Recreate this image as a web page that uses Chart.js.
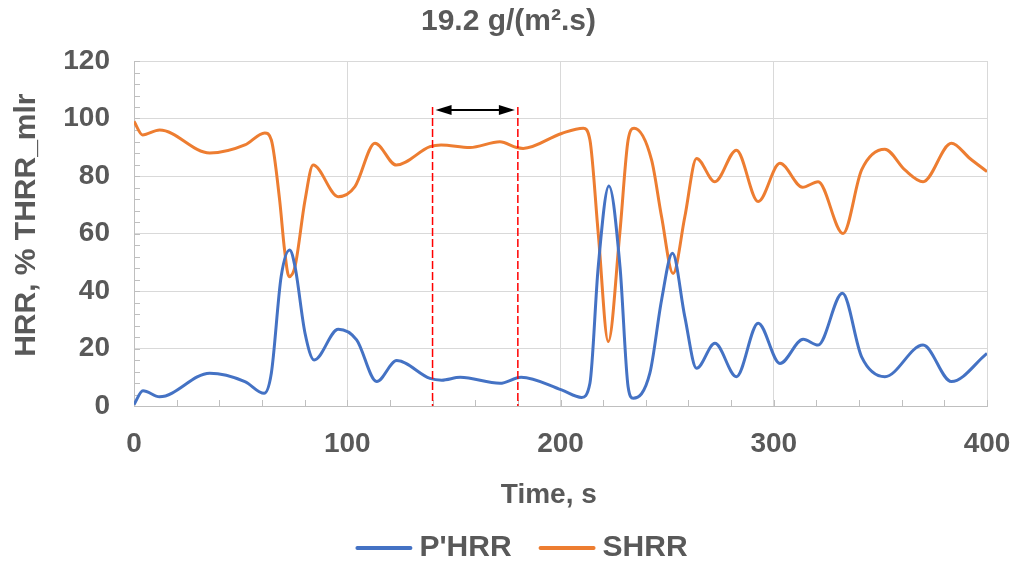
<!DOCTYPE html>
<html>
<head>
<meta charset="utf-8">
<script src="https://cdn.jsdelivr.net/npm/chart.js@4/dist/chart.umd.min.js"></script>
<style>
  html, body { margin: 0; padding: 0; background: #ffffff; }
  #wrap { width: 1016px; height: 562px; }
</style>
</head>
<body>
<div id="wrap"><canvas id="c" width="1016" height="562"></canvas></div>
<script>
// Heat release rate traces, % of THRR_mlr, versus time (s)
const timePHRR = [0, 4.2, 12, 35.5, 52, 61, 64.4, 69, 73, 75.5, 80.2, 84.5, 95.8, 104.4, 113.8, 123.2,
  138.8, 144.3, 153, 171.6, 181.5, 200.5, 209.9, 213.8, 217.7, 222.7, 227.9, 231.7, 234.1, 241.9,
  247.4, 252.5, 258.3, 263.8, 272.4, 282.5, 292.7, 302.9, 313.8, 320.8, 332.2, 341.2, 352.1, 370,
  383.3, 400];
const phrr = [0.5, 5.3, 3.2, 11.4, 8.5, 4.4, 11.4, 45, 54.3, 48.5, 25.3, 16, 26.7, 23, 8.5, 15.8,
  9.6, 9, 10, 7.9, 10, 5.6, 3, 7.9, 48.5, 76.5, 48.5, 6.7, 2.7, 11.4,
  36.9, 53.1, 31, 13.1, 21.8, 10.2, 28.8, 14.8, 23.2, 21.2, 39.2, 17.1, 10.2, 21.2,
  8.5, 18.3];

const timeSHRR = [0, 4, 12, 35.5, 52, 61.3, 64.4, 68.3, 70.6, 72.7, 75.5, 80.2, 84, 95.8, 103.6, 113,
  123, 138.8, 144, 157.5, 171.6, 179.4, 182.5, 200.5, 210.7, 213.8, 217.7, 222.4, 227.8, 231.7,
  234.5, 242.7, 247.4, 252.8, 258.3, 263.8, 272.4, 282.5, 292.7, 302.9, 313.5, 320.8, 332.5, 341.2,
  352.1, 361.5, 370, 383.3, 392, 400];
const shrr = [99, 94.3, 96, 88, 90.8, 95, 92.5, 71.6, 54.3, 45, 48.5, 71.6, 83.8, 72.8, 76.3, 91.4,
  83.8, 90.2, 90.8, 89.9, 91.9, 89.9, 89.6, 94.8, 96.6, 92.5, 60, 22.4, 60, 92.5,
  96.6, 85.6, 65.8, 46.1, 65.8, 86.1, 78, 89, 71.1, 84.4, 76.1, 78, 60, 82.1,
  89.3, 82.1, 78, 91.4, 86.1, 81.5];

// Steady-burning window marked by dashed lines and a double arrow
const windowStart = 140;
const windowEnd = 180;
const markerTop = 104;
const arrowLevel = 103;

const xTicks = [0, 100, 200, 300, 400];
const yTicks = [0, 20, 40, 60, 80, 100, 120];

const textColor = '#595959';
const fontFamily = "'Liberation Sans', Arial, sans-serif";

const toPoints = (xs, ys) => xs.map((x, i) => ({ x: x, y: ys[i] }));

// Small inward tick marks along both axes
const minorTicks = {
  id: 'minorTicks',
  beforeDatasetsDraw(chart) {
    const { ctx, chartArea, scales } = chart;
    ctx.save();
    ctx.strokeStyle = '#bfbfbf';
    ctx.lineWidth = 1;
    ctx.beginPath();
    for (let v = 0; v <= 400; v += 20) {
      const px = Math.round(scales.x.getPixelForValue(v)) + 0.5;
      ctx.moveTo(px, chartArea.bottom);
      ctx.lineTo(px, chartArea.bottom - 6);
    }
    for (let v = 0; v <= 120; v += 4) {
      const py = Math.round(scales.y.getPixelForValue(v)) + 0.5;
      ctx.moveTo(chartArea.left, py);
      ctx.lineTo(chartArea.left + 6, py);
    }
    ctx.stroke();
    ctx.restore();
  }
};

// Dashed window boundaries and the double-headed arrow between them
const windowMarker = {
  id: 'windowMarker',
  afterDatasetsDraw(chart) {
    const { ctx, scales } = chart;
    const x1 = scales.x.getPixelForValue(windowStart);
    const x2 = scales.x.getPixelForValue(windowEnd);
    const yTop = scales.y.getPixelForValue(markerTop);
    const yBot = scales.y.getPixelForValue(0);
    ctx.save();
    ctx.strokeStyle = '#ff0000';
    ctx.lineWidth = 1.5;
    ctx.setLineDash([8, 3]);
    [x1, x2].forEach(x => {
      ctx.beginPath();
      ctx.moveTo(x, yTop);
      ctx.lineTo(x, yBot);
      ctx.stroke();
    });
    ctx.setLineDash([]);
    const ya = scales.y.getPixelForValue(arrowLevel);
    const a1 = x1 + 3, a2 = x2 - 3, head = 16, half = 5;
    ctx.strokeStyle = '#000000';
    ctx.fillStyle = '#000000';
    ctx.lineWidth = 2;
    ctx.beginPath();
    ctx.moveTo(a1 + head - 2, ya);
    ctx.lineTo(a2 - head + 2, ya);
    ctx.stroke();
    ctx.beginPath();
    ctx.moveTo(a1, ya);
    ctx.lineTo(a1 + head, ya - half);
    ctx.lineTo(a1 + head, ya + half);
    ctx.closePath();
    ctx.fill();
    ctx.beginPath();
    ctx.moveTo(a2, ya);
    ctx.lineTo(a2 - head, ya - half);
    ctx.lineTo(a2 - head, ya + half);
    ctx.closePath();
    ctx.fill();
    ctx.restore();
  }
};

// Series key along the bottom edge: line sample followed by the dataset label
const seriesKey = {
  id: 'seriesKey',
  afterDraw(chart) {
    const { ctx } = chart;
    const sample = 55, gapText = 8, gapItem = 28, y = 548;
    ctx.save();
    ctx.font = 'bold 30px ' + fontFamily;
    ctx.textBaseline = 'middle';
    ctx.textAlign = 'left';
    const items = chart.data.datasets.map(ds => ({
      label: ds.label, color: ds.borderColor, w: ctx.measureText(ds.label).width
    }));
    const total = items.reduce((s, it) => s + sample + gapText + it.w, 0) + gapItem * (items.length - 1);
    let x = 522 - total / 2;
    items.forEach(it => {
      ctx.strokeStyle = it.color;
      ctx.lineWidth = 4;
      ctx.lineCap = 'round';
      ctx.beginPath();
      ctx.moveTo(x + 1, y);
      ctx.lineTo(x + sample - 1, y);
      ctx.stroke();
      x += sample + gapText;
      ctx.fillStyle = textColor;
      ctx.fillText(it.label, x, y);
      x += it.w + gapItem;
    });
    ctx.restore();
  }
};

new Chart(document.getElementById('c'), {
  type: 'line',
  data: {
    datasets: [
      {
        label: "P'HRR",
        data: toPoints(timePHRR, phrr),
        borderColor: '#4472c4',
        backgroundColor: '#4472c4',
        borderWidth: 3,
        pointRadius: 0,
        cubicInterpolationMode: 'monotone'
      },
      {
        label: 'SHRR',
        data: toPoints(timeSHRR, shrr),
        borderColor: '#ed7d31',
        backgroundColor: '#ed7d31',
        borderWidth: 3,
        pointRadius: 0,
        cubicInterpolationMode: 'monotone'
      }
    ]
  },
  options: {
    responsive: false,
    animation: false,
    devicePixelRatio: 1,
    layout: { padding: { left: 30, right: 29, top: 0, bottom: 50 } },
    plugins: {
      title: {
        display: true,
        text: '19.2 g/(m\u00b2.s)',
        color: textColor,
        font: { family: fontFamily, size: 30, weight: 'bold' },
        padding: { top: 4, bottom: 21 }
      },
      legend: { display: false },
      tooltip: { enabled: false }
    },
    scales: {
      x: {
        type: 'linear',
        min: 0,
        max: 400,
        afterBuildTicks: s => { s.ticks = xTicks.map(v => ({ value: v })); },
        afterFit: s => { s.height = 106; s.paddingLeft = 0; s.paddingRight = 0; },
        ticks: {
          color: textColor,
          font: { family: fontFamily, size: 28, weight: 'bold' },
          padding: 21,
          maxRotation: 0
        },
        grid: { color: '#d9d9d9', drawTicks: false },
        border: { color: '#bfbfbf' },
        title: {
          display: true,
          text: 'Time, s   ',
          color: textColor,
          font: { family: fontFamily, size: 28, weight: 'bold' },
          padding: { top: 0, bottom: 0 }
        }
      },
      y: {
        min: 0,
        max: 120,
        afterBuildTicks: s => { s.ticks = yTicks.map(v => ({ value: v })); },
        afterFit: s => { s.width = 104; },
        ticks: {
          color: textColor,
          font: { family: fontFamily, size: 28, weight: 'bold' },
          padding: 24
        },
        grid: { color: '#d9d9d9', drawTicks: false },
        border: { color: '#bfbfbf' },
        title: {
          display: true,
          text: '  HRR, % THRR_mlr',
          color: textColor,
          font: { family: fontFamily, size: 30, weight: 'bold' },
          padding: { top: -21, bottom: 0 }
        }
      }
    }
  },
  plugins: [minorTicks, windowMarker, seriesKey]
});
</script>
</body>
</html>
